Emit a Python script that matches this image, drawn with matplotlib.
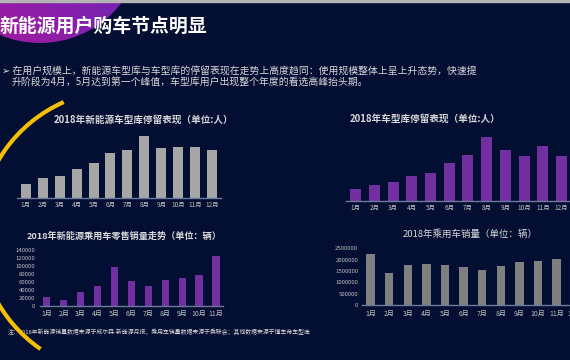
import matplotlib
matplotlib.use("Agg")
import matplotlib.pyplot as plt
from matplotlib.patches import Circle, Arc
from matplotlib.colors import LinearSegmentedColormap
import numpy as np

plt.rcParams['font.family'] = ['Noto Sans CJK SC', 'DejaVu Sans']

W, H = 570, 360
BG = '#020e32'
TXT = '#d9d9d9'
TICK = '#bfbfbf'
AXLINE = '#6f7a99'
PURPLE = '#7030a0'

months12 = ['1月', '2月', '3月', '4月', '5月', '6月', '7月', '8月', '9月', '10月', '11月', '12月']
months11 = months12[:11]

# relative heights, no y axis shown in the slide
nev_lib_stay = [13.4, 19.7, 22.0, 28.7, 34.4, 45.0, 47.4, 61.7, 49.4, 50.7, 50.4, 47.4]
lib_stay = [11.4, 16.0, 18.4, 24.4, 27.7, 37.7, 46.0, 63.4, 50.4, 44.7, 54.7, 45.0]
nev_sales = [21000, 13500, 34000, 49000, 98000, 62000, 48000, 64500, 69500, 76000, 125000]
car_sales = [2235000, 1426000, 1780000, 1794000, 1780000, 1676000, 1544000, 1720000, 1882000, 1941000, 2015000, 2235000]

main_title = '新能源用户购车节点明显'
bullet = ['➢ 在用户规模上，新能源车型库与车型库的停留表现在走势上高度趋同：使用规模整体上呈上升态势，快速提',
          '升阶段为4月，5月达到第一个峰值，车型库用户出现整个年度的看选高峰抬头期。']
note = '注：2018年新能源销量数据来源于威尔森-新能源月报，乘用车销量数据来源于乘联会；其他数据来源于懂车帝车型库'


def px_axes(fig, left, bottom, width, height):
    # pixel box (bottom measured from top of image) -> figure fraction
    ax = fig.add_axes([left / W, 1 - bottom / H, width / W, height / H])
    ax.set_facecolor('none')
    return ax


def style(ax, show_y=False, ypad=2):
    for s in ['top', 'right', 'left']:
        ax.spines[s].set_visible(False)
    ax.spines['bottom'].set_color(AXLINE)
    ax.spines['bottom'].set_linewidth(1)
    ax.tick_params(axis='x', length=0, pad=2.5, labelsize=4.6, colors=TICK)
    if show_y:
        ax.tick_params(axis='y', length=0, pad=ypad, labelsize=4.3, colors=TICK)
        ax.ticklabel_format(axis='y', style='plain', useOffset=False)
    else:
        ax.set_yticks([])


fig = plt.figure(figsize=(W / 100, H / 100), dpi=100)
fig.patch.set_facecolor(BG)

bg = fig.add_axes([0, 0, 1, 1])
bg.set_xlim(0, W)
bg.set_ylim(H, 0)
bg.axis('off')
bg.set_facecolor(BG)

# purple circle with gradient in the corner
circ = Circle((40, -60), 103, transform=bg.transData, facecolor='none', edgecolor='none')
bg.add_patch(circ)
gx, gy = np.meshgrid(np.linspace(0, 1, 200), np.linspace(0, 1, 200))
grad = (gx + (1 - gy)) / 2
cmap = LinearSegmentedColormap.from_list('pm', ['#b0189c', '#7a22b0', '#5a2fc8'])
im = bg.imshow(grad, extent=(-63, 143, 43, -163), cmap=cmap, zorder=1, aspect='auto')
im.set_clip_path(circ)

# grey rule at the very top
bg.axhspan(0, 1.8, color='#b4b4b4', zorder=2)

# yellow arc
bg.add_patch(Arc((121, 232), 284, 284, theta1=124.5, theta2=246.2,
                 color='#f5bf00', lw=3, zorder=5))

bg.text(-1, 26, main_title, color='white', fontsize=13.6, fontweight='bold',
        va='center', ha='left', zorder=4)
bg.text(2, 71, bullet[0], color=TXT, fontsize=7.1, va='center', ha='left')
bg.text(11.5, 82, bullet[1], color=TXT, fontsize=7.1, va='center', ha='left')
bg.text(8, 332, note, color=TXT, fontsize=4.2, va='center', ha='left', zorder=2)

# chart titles
bg.text(144, 120, '2018年新能源车型库停留表现（单位:人）', color=TXT, fontsize=6.9,
        fontweight='bold', ha='center', va='center')
bg.text(425, 118.5, '2018年车型库停留表现（单位:人）', color=TXT, fontsize=6.9,
        fontweight='bold', ha='center', va='center')
bg.text(124, 236.5, '2018年新能源乘用车零售销量走势（单位：辆）', color=TXT, fontsize=6.6,
        fontweight='bold', ha='center', va='center')
bg.text(470, 234, '2018年乘用车销量（单位：辆）', color=TXT, fontsize=6.8,
        ha='center', va='center')

# chart 1: new energy library stay (grey)
ax1 = px_axes(fig, 17.2, 197.7, 203.5, 70)
ax1.bar(range(12), nev_lib_stay, width=0.59, color='#a6a6a6')
ax1.set_xlim(-0.5, 11.5)
ax1.set_ylim(0, 70)
ax1.set_xticks(range(12))
ax1.set_xticklabels(months12)
style(ax1)

# chart 2: library stay (purple)
ax2 = px_axes(fig, 346.4, 200.7, 224.4, 70)
ax2.bar(range(12), lib_stay, width=0.59, color=PURPLE)
ax2.set_xlim(-0.5, 11.5)
ax2.set_ylim(0, 70)
ax2.set_xticks(range(12))
ax2.set_xticklabels(months12)
style(ax2)

# chart 3: NEV retail sales
ax3 = px_axes(fig, 40, 305.5, 183, 55.5)
ax3.bar(range(11), nev_sales, width=0.43, color=PURPLE)
ax3.set_xlim(-0.4, 10.41)
ax3.set_ylim(0, 140000)
ax3.set_yticks(np.arange(0, 140001, 20000))
ax3.set_xticks(range(11))
ax3.set_xticklabels(months11)
style(ax3, show_y=True, ypad=3.5)
ax3.tick_params(axis='x', pad=3.5, labelsize=5)

# chart 4: passenger car sales
ax4 = px_axes(fig, 361.7, 305.3, 222.8, 57)
ax4.bar(range(12), car_sales, width=0.45, color='#7f7f7f')
ax4.set_xlim(-0.48, 11.5)
ax4.set_ylim(0, 2500000)
ax4.set_yticks(np.arange(0, 2500001, 500000))
ax4.set_xticks(range(12))
ax4.set_xticklabels(months12)
style(ax4, show_y=True, ypad=2.5)
ax4.tick_params(axis='x', pad=3.5, labelsize=5)

fig.savefig('out.png', dpi=100, facecolor=BG)
